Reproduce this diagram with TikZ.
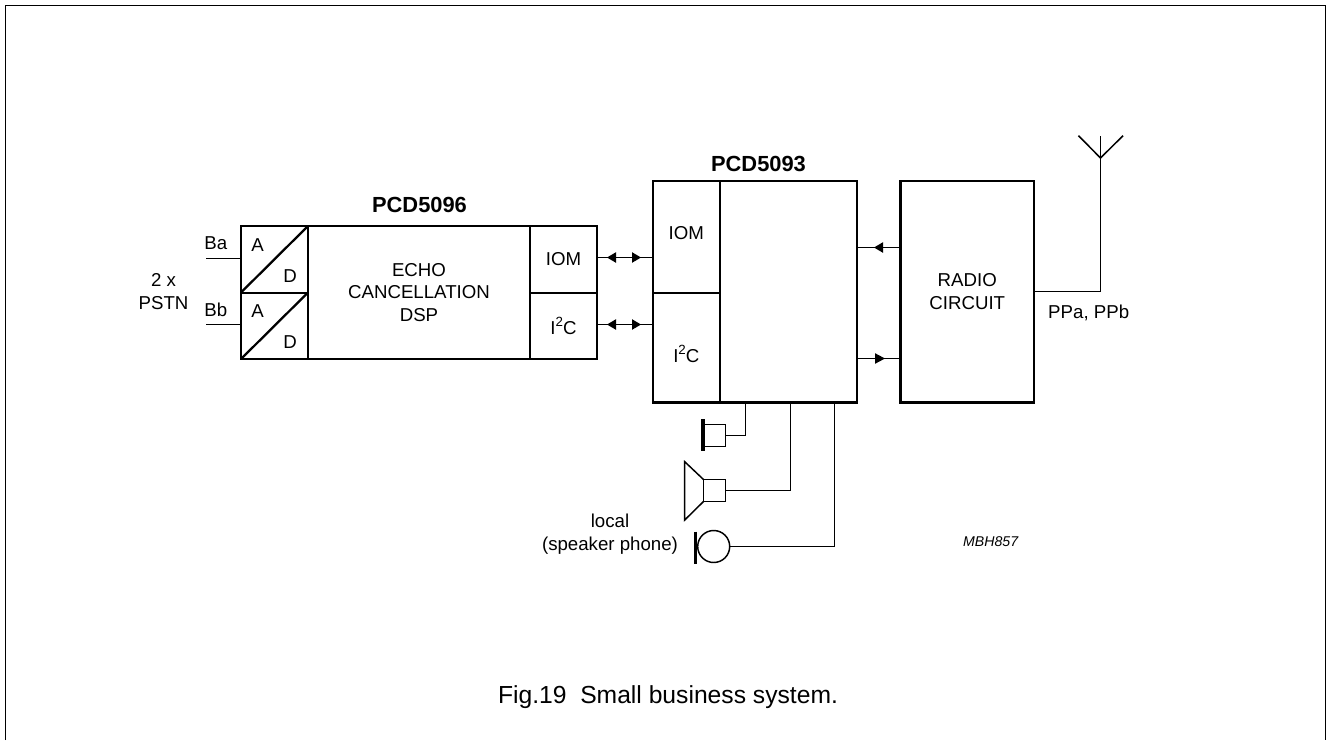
\documentclass[tikz,border=0pt]{standalone}
\usepackage{fontspec}
\setmainfont{Liberation Sans}
\usetikzlibrary{calc}
\tikzset{
  x=0.75pt,y=-0.75pt,
  outerbox/.style={draw=black,line width=1.9pt,inner sep=0pt,outer sep=0pt},
  cellbox/.style={draw=black,line width=1.5pt,inner sep=0pt,outer sep=0pt},
  thinbox/.style={draw=black,line width=1.1pt,inner sep=0pt,outer sep=0pt},
  wire/.style={draw=black,line width=1.15pt},
  bar/.style={draw=black,line width=2.4pt},
  diag/.style={draw=black,line width=1.7pt},
  lbl/.style={font=\fontsize{14pt}{17pt}\selectfont,align=center,inner sep=0pt},
  bold lbl/.style={font=\fontsize{16.4pt}{19pt}\selectfont\bfseries,inner sep=0pt},
  tipfill/.style={fill=black,draw=none}
}
\newcommand{\pxbox}[7]{% name, style, x1, y1, x2, y2, text
  \pgfmathsetmacro{\pxw}{(#5-#3)*0.75}
  \pgfmathsetmacro{\pxh}{(#6-#4)*0.75}
  \node[#2,align=center,font=\fontsize{14pt}{17pt}\selectfont,
        minimum width=\pxw pt,minimum height=\pxh pt] (#1) at ({(#3+#5)/2},{(#4+#6)/2}) {#7};
}
\newcommand{\itc}{I\raisebox{0.42em}{\fontsize{10pt}{10pt}\selectfont 2}C}
\begin{document}
\begin{tikzpicture}
\useasboundingbox (0,0) rectangle (1327,740);
\coordinate (fbl) at (5.5,740);
\coordinate (ftl) at (5.5,5.5);
\coordinate (ftr) at (1325.5,5.5);
\coordinate (fbr) at (1325.5,740);
\draw[line width=1.1pt] (fbl) -- (ftl) -- (ftr) -- (fbr);

% PCD5096
\pxbox{ad1}{cellbox}{241}{226}{308}{292.5}{}
\pxbox{ad2}{cellbox}{241}{292.5}{308}{359}{}
\pxbox{dsp}{cellbox}{308}{226}{530}{359}{ECHO\\CANCELLATION\\DSP}
\pxbox{iomA}{cellbox}{530}{226}{597}{292.5}{IOM}
\pxbox{icA}{cellbox}{530}{292.5}{597}{359}{\itc}
\pxbox{pcdA}{outerbox}{241}{226}{597}{359}{}
\draw[diag] (ad1.south west) -- (ad1.north east);
\draw[diag] (ad2.south west) -- (ad2.north east);
\node[lbl] (ta1) at (257.7,245) {A};
\node[lbl] (td1) at (290,276) {D};
\node[lbl] (ta2) at (257.7,311) {A};
\node[lbl] (td2) at (290,342) {D};
\node[bold lbl] (p96) at (419.5,205) {PCD5096};

% left labels
\node[lbl] (ba) at (215.8,243.3) {Ba};
\node[lbl] (bb) at (215.8,310) {Bb};
\node[lbl] (pstn) at (163.5,291.5) {2 x\\PSTN};
\coordinate (baw) at (206,258.5);
\coordinate (bbw) at (206,324.5);
\draw[wire] (baw) -- (ad1.west |- baw);
\draw[wire] (bbw) -- (ad2.west |- bbw);

% PCD5093
\pxbox{iomB}{cellbox}{653}{181}{720}{292.5}{}
\pxbox{icB}{cellbox}{653}{292.5}{720}{402.5}{}
\pxbox{core}{cellbox}{720}{181}{857}{402.5}{}
\pxbox{pcdB}{outerbox}{653}{181}{857}{402.5}{}
\node[bold lbl] (p93) at (758.5,164) {PCD5093};
\node[lbl] (tiomB) at (686.3,233) {IOM};
\node[lbl] (ticB) at (686.3,354) {\itc};

% Radio
\pxbox{radio}{outerbox}{900.5}{181}{1034}{402.5}{\fontsize{14pt}{16.4pt}\selectfont RADIO\\CIRCUIT}
\node[lbl] (pp) at (1088.7,313) {PPa, PPb};

% IOM / I2C links
\foreach \yy/\aa/\bb in {257.5/iomA/iomB,324.5/icA/icB}{
  \draw[wire] (\aa.east |- 0,\yy) -- (\bb.west |- 0,\yy);
  \fill[tipfill] (607,\yy) -- (616,\yy-5.3) -- (616,\yy+5.3) -- cycle;
  \fill[tipfill] (641,\yy) -- (632,\yy-5.3) -- (632,\yy+5.3) -- cycle;
}
% radio links
\draw[wire] (radio.west |- 0,247.5) -- (core.east |- 0,247.5);
\fill[tipfill] (874,247.5) -- (883,242.2) -- (883,252.8) -- cycle;
\draw[wire] (radio.west |- 0,358.5) -- (core.east |- 0,358.5);
\fill[tipfill] (885,358.5) -- (875,353.2) -- (875,363.8) -- cycle;

% antenna
\coordinate (ant) at (1100.5,158);
\coordinate (anttop) at (1100.5,135.7);
\coordinate (antl) at (1078.5,135.7);
\coordinate (antr) at (1123,135.7);
\draw[wire] (radio.east |- 0,291.5) -| (ant) -- (anttop);
\draw[wire] (antl) -- (ant) -- (antr);

% earpiece
\pxbox{ear}{thinbox}{703.5}{424.5}{725.5}{446.5}{}
\coordinate (eart) at (703,419);
\coordinate (earb) at (703,451);
\coordinate (eard) at (745.5,402.5);
\draw[bar] (eart) -- (earb);
\draw[wire] (ear.east) -| (eard);

% speaker
\pxbox{spk}{thinbox}{703.5}{479.5}{725.5}{501.5}{}
\coordinate (spkd) at (790.5,402.5);
\coordinate (conet) at (684.7,461.7);
\coordinate (coneb) at (684.7,520);
\draw[thinbox] (spk.north west) -- (conet) -- (coneb) -- (spk.south west);
\draw[wire] (spk.east) -| (spkd);

% microphone
\node[thinbox,circle,minimum size=24pt] (mic) at (713.7,546.5) {};
\coordinate (mict) at (695.7,531.7);
\coordinate (micb) at (695.7,563.7);
\coordinate (micd) at (834.5,402.5);
\draw[bar] (mict) -- (micb);
\draw[wire] (mic.east) -| (micd);
\node[lbl] (loc) at (610,534.3) {local\\(speaker phone)};

\node[font=\fontsize{10.6pt}{12pt}\selectfont\itshape,inner sep=0pt] (code) at (990.7,541.7) {MBH857};
\node[font=\fontsize{18.5pt}{22pt}\selectfont,inner sep=0pt] (cap) at (668,697) {Fig.19\ \ Small business system.};
\end{tikzpicture}
\end{document}
